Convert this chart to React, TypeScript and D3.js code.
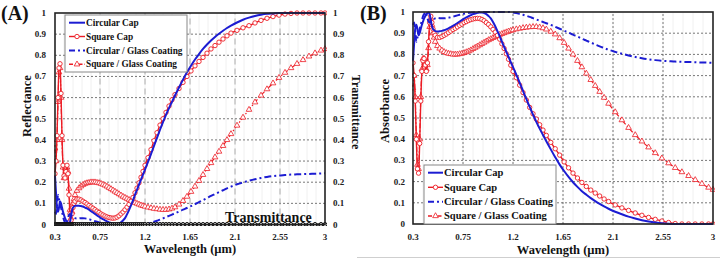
import React from "react";
import * as d3 from "d3";

// ---------- data ----------
const WAVELENGTH = [
  0.30, 0.31, 0.32, 0.33, 0.34, 0.35, 0.36, 0.37, 0.38, 0.39, 0.40, 0.41, 0.42, 0.43, 0.44, 0.45, 0.46, 0.47, 0.48, 0.49, 0.50,
  0.52, 0.54, 0.56, 0.58, 0.60, 0.62, 0.64, 0.66, 0.68, 0.70, 0.72, 0.74, 0.76, 0.78, 0.80, 0.82, 0.84, 0.86, 0.88, 0.90,
  0.92, 0.94, 0.96, 0.98, 1.00, 1.02, 1.04, 1.06, 1.08, 1.10, 1.12, 1.14, 1.16, 1.18, 1.20,
  1.23, 1.26, 1.29, 1.32, 1.35, 1.38, 1.41, 1.44, 1.47, 1.50,
  1.54, 1.58, 1.62, 1.66, 1.70, 1.74, 1.78, 1.82, 1.86, 1.90, 1.94, 1.98, 2.02,
  2.06, 2.12, 2.18, 2.24, 2.30, 2.36, 2.42, 2.48, 2.54, 2.60, 2.66, 2.72, 2.78, 2.84, 2.90, 2.96, 3.00,
];

// (A) Reflectance
const REFL_CIRCULAR = [
  0.23, 0.15, 0.08, 0.06, 0.08, 0.11, 0.10, 0.08, 0.06, 0.045, 0.03, 0.02, 0.01, 0.005, 0.003, 0.01, 0.04, 0.065, 0.08, 0.085, 0.088,
  0.089, 0.089, 0.087, 0.085, 0.080, 0.076, 0.070, 0.063, 0.057, 0.050, 0.043, 0.037, 0.030, 0.025, 0.020, 0.015, 0.010, 0.007,
  0.004, 0.002, 0.002, 0.005, 0.010, 0.019, 0.030, 0.048, 0.068, 0.090, 0.114, 0.140, 0.164, 0.188, 0.212, 0.236, 0.260,
  0.296, 0.333, 0.372, 0.41, 0.448, 0.484, 0.518, 0.55, 0.58, 0.61,
  0.648, 0.685, 0.72, 0.751, 0.78, 0.806, 0.83, 0.851, 0.87, 0.887, 0.902, 0.916, 0.929,
  0.94, 0.955, 0.968, 0.978, 0.986, 0.992, 0.996, 0.998, 1, 1, 1, 1, 1, 1, 1, 1, 1,
];
const REFL_SQUARE = [
  0.24, 0.30, 0.42, 0.60, 0.74, 0.76, 0.62, 0.42, 0.28, 0.23, 0.22, 0.25, 0.28, 0.24, 0.14, 0.05, 0.02, 0.05, 0.08, 0.10, 0.11,
  0.12, 0.12, 0.116, 0.11, 0.104, 0.097, 0.09, 0.083, 0.077, 0.07, 0.063, 0.057, 0.05, 0.045, 0.04, 0.036, 0.033, 0.031,
  0.03, 0.031, 0.035, 0.041, 0.05, 0.059, 0.07, 0.082, 0.095, 0.11, 0.128, 0.15, 0.172, 0.197, 0.223, 0.251, 0.28,
  0.316, 0.354, 0.396, 0.434, 0.47, 0.5, 0.53, 0.56, 0.59, 0.614,
  0.643, 0.672, 0.70, 0.726, 0.75, 0.771, 0.79, 0.81, 0.83, 0.846, 0.862, 0.877, 0.892,
  0.905, 0.918, 0.93, 0.94, 0.953, 0.965, 0.975, 0.983, 0.99, 0.995, 0.998, 1, 1, 1, 1, 1, 1,
];
const REFL_CIRCULAR_GLASS = [
  0.06, 0.05, 0.09, 0.14, 0.12, 0.10, 0.08, 0.06, 0.04, 0.02, 0.01, 0.0, 0.01, 0.03, 0.045, 0.05, 0.045, 0.04, 0.035, 0.032, 0.03,
  0.028, 0.029, 0.03, 0.03, 0.029, 0.027, 0.025, 0.022, 0.019, 0.016, 0.013, 0.01, 0.008, 0.006, 0.004, 0.003, 0.002, 0.001,
  0, 0, 0, 0, 0, 0, 0, 0, 0, 0, 0, 0, 0, 0, 0, 0.001, 0.002,
  0.005, 0.008, 0.013, 0.018, 0.023, 0.029, 0.035, 0.041, 0.047, 0.053,
  0.061, 0.07, 0.078, 0.087, 0.096, 0.106, 0.115, 0.125, 0.135, 0.144, 0.153, 0.162, 0.171,
  0.179, 0.19, 0.199, 0.207, 0.214, 0.22, 0.225, 0.229, 0.232, 0.234, 0.236, 0.237, 0.238, 0.239, 0.24, 0.241, 0.242,
];
const REFL_SQUARE_GLASS = [
  0.36, 0.30, 0.40, 0.58, 0.72, 0.74, 0.60, 0.40, 0.27, 0.22, 0.22, 0.24, 0.27, 0.25, 0.17, 0.07, 0.03, 0.06, 0.10, 0.12, 0.14,
  0.16, 0.172, 0.181, 0.188, 0.193, 0.196, 0.198, 0.2, 0.2, 0.2, 0.198, 0.196, 0.193, 0.189, 0.185, 0.18, 0.174, 0.168,
  0.162, 0.156, 0.15, 0.144, 0.138, 0.132, 0.127, 0.122, 0.117, 0.112, 0.107, 0.103, 0.099, 0.095, 0.091, 0.088, 0.085,
  0.081, 0.078, 0.075, 0.073, 0.071, 0.07, 0.07, 0.072, 0.076, 0.082,
  0.095, 0.112, 0.132, 0.155, 0.18, 0.207, 0.235, 0.263, 0.291, 0.318, 0.345, 0.372, 0.4,
  0.428, 0.468, 0.506, 0.543, 0.578, 0.61, 0.64, 0.668, 0.694, 0.718, 0.74, 0.76, 0.778, 0.795, 0.81, 0.823, 0.83,
];
const TRANSMITTANCE = [
  0, 0, 0, 0, 0, 0, 0, 0, 0, 0, 0, 0, 0, 0, 0, 0, 0, 0, 0, 0, 0,
  0, 0, 0, 0, 0, 0, 0, 0, 0, 0, 0, 0, 0, 0, 0, 0, 0, 0,
  0, 0, 0, 0, 0, 0, 0, 0, 0, 0, 0, 0, 0, 0, 0, 0, 0,
  0, 0, 0, 0, 0, 0, 0, 0, 0, 0,
  0, 0, 0, 0, 0, 0, 0, 0, 0, 0, 0, 0, 0,
  0, 0, 0, 0, 0, 0, 0, 0, 0, 0, 0, 0, 0, 0, 0, 0, 0,
];

// (B) Absorbance
const ABS_CIRCULAR = [
  0.77, 0.85, 0.92, 0.94, 0.92, 0.89, 0.90, 0.92, 0.94, 0.955, 0.97, 0.98, 0.99, 0.995, 0.998, 0.99, 0.96, 0.935, 0.92, 0.915, 0.91,
  0.908, 0.909, 0.911, 0.914, 0.918, 0.923, 0.929, 0.935, 0.941, 0.948, 0.955, 0.962, 0.969, 0.975, 0.98, 0.985, 0.99, 0.993,
  0.996, 0.998, 0.998, 0.995, 0.99, 0.981, 0.97, 0.953, 0.933, 0.91, 0.886, 0.86, 0.836, 0.812, 0.788, 0.764, 0.74,
  0.704, 0.667, 0.628, 0.59, 0.552, 0.516, 0.482, 0.45, 0.42, 0.39,
  0.352, 0.315, 0.28, 0.25, 0.222, 0.197, 0.175, 0.155, 0.138, 0.122, 0.108, 0.095, 0.083,
  0.072, 0.058, 0.046, 0.035, 0.026, 0.018, 0.012, 0.007, 0.003, 0.001, 0, 0, 0, 0, 0, 0, 0,
];
const ABS_SQUARE = [
  0.76, 0.70, 0.58, 0.40, 0.26, 0.24, 0.38, 0.58, 0.72, 0.77, 0.78, 0.75, 0.72, 0.76, 0.86, 0.95, 0.98, 0.95, 0.92, 0.90, 0.89,
  0.88, 0.88, 0.884, 0.89, 0.896, 0.903, 0.91, 0.917, 0.923, 0.93, 0.937, 0.943, 0.95, 0.955, 0.96, 0.964, 0.967, 0.969,
  0.97, 0.969, 0.965, 0.959, 0.95, 0.941, 0.93, 0.918, 0.905, 0.89, 0.872, 0.85, 0.828, 0.803, 0.777, 0.749, 0.72,
  0.69, 0.655, 0.62, 0.585, 0.55, 0.52, 0.495, 0.468, 0.443, 0.418,
  0.385, 0.355, 0.325, 0.293, 0.265, 0.24, 0.217, 0.196, 0.177, 0.16, 0.146, 0.132, 0.118,
  0.106, 0.09, 0.076, 0.064, 0.052, 0.041, 0.031, 0.022, 0.014, 0.007, 0.002, 0, 0, 0, 0, 0, 0,
];
const ABS_CIRCULAR_GLASS = [
  0.94, 0.95, 0.91, 0.86, 0.88, 0.90, 0.92, 0.94, 0.96, 0.98, 0.99, 1.0, 0.99, 0.97, 0.955, 0.95, 0.955, 0.96, 0.965, 0.968, 0.97,
  0.972, 0.971, 0.97, 0.97, 0.971, 0.973, 0.975, 0.978, 0.981, 0.984, 0.987, 0.99, 0.992, 0.994, 0.996, 0.997, 0.998, 0.999,
  1, 1, 1, 1, 1, 1, 1, 1, 1, 1, 1, 1, 1, 1, 1, 0.999, 0.998,
  0.995, 0.991, 0.987, 0.982, 0.977, 0.971, 0.965, 0.959, 0.953, 0.947,
  0.939, 0.93, 0.921, 0.912, 0.903, 0.893, 0.884, 0.874, 0.865, 0.856, 0.847, 0.838, 0.83,
  0.822, 0.812, 0.803, 0.795, 0.788, 0.782, 0.777, 0.773, 0.77, 0.768, 0.766, 0.765, 0.764, 0.763, 0.762, 0.761, 0.76,
];
const ABS_SQUARE_GLASS = [
  0.64, 0.70, 0.60, 0.42, 0.28, 0.26, 0.40, 0.60, 0.73, 0.78, 0.78, 0.76, 0.73, 0.75, 0.83, 0.93, 0.97, 0.94, 0.90, 0.88, 0.86,
  0.84, 0.828, 0.819, 0.812, 0.807, 0.804, 0.802, 0.8, 0.8, 0.8, 0.802, 0.804, 0.807, 0.811, 0.815, 0.82, 0.826, 0.832,
  0.838, 0.844, 0.85, 0.856, 0.862, 0.868, 0.873, 0.878, 0.883, 0.888, 0.893, 0.897, 0.901, 0.905, 0.909, 0.912, 0.915,
  0.919, 0.922, 0.925, 0.927, 0.929, 0.93, 0.93, 0.928, 0.924, 0.918,
  0.908, 0.895, 0.877, 0.855, 0.828, 0.8, 0.77, 0.74, 0.71, 0.68, 0.652, 0.624, 0.596,
  0.568, 0.528, 0.49, 0.454, 0.42, 0.39, 0.362, 0.335, 0.31, 0.287, 0.265, 0.245, 0.227, 0.208, 0.19, 0.172, 0.162,
];

const SERIES_NAMES = ["Circular Cap", "Square Cap", "Circular / Glass Coating", "Square / Glass Coating"];
const X_TICKS = [0.3, 0.75, 1.2, 1.65, 2.1, 2.55, 3];
const X_TICK_LABELS = ["0.3", "0.75", "1.2", "1.65", "2.1", "2.55", "3"];
const Y_TICKS = [0, 0.1, 0.2, 0.3, 0.4, 0.5, 0.6, 0.7, 0.8, 0.9, 1];
const Y_TICK_LABELS = ["0", "0.1", "0.2", "0.3", "0.4", "0.5", "0.6", "0.7", "0.8", "0.9", "1"];

// ---------- styles ----------
const FONT = "'Liberation Serif', 'Times New Roman', serif";
const BLUE = "#1c1cd2";
const RED = "#ec1c24";

type Scale = d3.ScaleLinear<number, number>;

function linePath(values: number[], x: Scale, y: Scale) {
  return (
    d3
      .line<number>()
      .x((_, i) => x(WAVELENGTH[i]))
      .y((d) => y(d))
      .curve(d3.curveMonotoneX)(values) || ""
  );
}

const triPath = d3.symbol().type(d3.symbolTriangle).size(14)() || "";

function Series({ values, x, y, kind }: { values: number[]; x: Scale; y: Scale; kind: number }) {
  const d = linePath(values, x, y);
  if (kind === 0) return <path d={d} fill="none" stroke={BLUE} strokeWidth={2} />;
  if (kind === 2)
    return <path d={d} fill="none" stroke={BLUE} strokeWidth={2} strokeDasharray="7 3 2 3" />;
  if (kind === 1)
    return (
      <g>
        <path d={d} fill="none" stroke={RED} strokeWidth={1.4} />
        {values.map((v, i) => (
          <circle key={i} cx={x(WAVELENGTH[i])} cy={y(v)} r={2.2} fill="white" stroke={RED} strokeWidth={0.9} />
        ))}
      </g>
    );
  if (kind === 3)
    return (
      <g>
        <path d={d} fill="none" stroke={RED} strokeWidth={1.2} strokeDasharray="5 2 1.5 2" />
        {values.map((v, i) => (
          <path
            key={i}
            d={triPath}
            transform={`translate(${x(WAVELENGTH[i])},${y(v)})`}
            fill="white"
            stroke={RED}
            strokeWidth={0.8}
          />
        ))}
      </g>
    );
  // transmittance (black with circles)
  return (
    <g>
      <path d={d} fill="none" stroke="#000" strokeWidth={2.2} />
      {values.map((v, i) => (
        <circle key={i} cx={x(WAVELENGTH[i])} cy={y(v)} r={2} fill="white" stroke="#000" strokeWidth={1} />
      ))}
    </g>
  );
}

function Grid({ x, y, vDash, vColor }: { x: Scale; y: Scale; vDash: string; vColor: string }) {
  const [x0, x1] = x.range();
  const [y0, y1] = y.range();
  const minor = d3.range(0.39, 3, 0.09);
  return (
    <g>
      {minor.map((m, i) => (
        <line key={"m" + i} x1={x(m)} x2={x(m)} y1={y0} y2={y1} stroke="#ececec" strokeWidth={0.8} />
      ))}
      {Y_TICKS.slice(1, -1).map((t, i) => (
        <line key={"h" + i} x1={x0} x2={x1} y1={y(t)} y2={y(t)} stroke="#555" strokeWidth={0.8} strokeDasharray="2 2" />
      ))}
      {X_TICKS.slice(1, -1).map((t, i) => (
        <line key={"v" + i} x1={x(t)} x2={x(t)} y1={y0} y2={y1} stroke={vColor} strokeWidth={0.8} strokeDasharray={vDash} />
      ))}
    </g>
  );
}

function Axes({ x, y, leftLabelX, rightLabelX }: { x: Scale; y: Scale; leftLabelX: number; rightLabelX?: number }) {
  const [x0, x1] = x.range();
  const [y0, y1] = y.range();
  return (
    <g fontFamily={FONT} fontWeight="bold" fontSize={9} fill="#222">
      <rect x={x0} y={y1} width={x1 - x0} height={y0 - y1} fill="none" stroke="#222" strokeWidth={1.6} />
      {Y_TICKS.map((t, i) => (
        <text key={"yl" + i} x={leftLabelX} y={y(t) + 3} textAnchor="end">
          {Y_TICK_LABELS[i]}
        </text>
      ))}
      {rightLabelX !== undefined &&
        Y_TICKS.map((t, i) => (
          <text key={"yr" + i} x={rightLabelX} y={y(t) + 3} textAnchor="start">
            {Y_TICK_LABELS[i]}
          </text>
        ))}
      {X_TICKS.map((t, i) => (
        <text key={"xl" + i} x={x(t)} y={239.5} textAnchor="middle">
          {X_TICK_LABELS[i]}
        </text>
      ))}
    </g>
  );
}

function Legend({ x, y, w, h, rows, fs, sx0, sx1 }: { x: number; y: number; w: number; h: number; rows: number[]; fs: number; sx0: number; sx1: number }) {
  const mid = (sx0 + sx1) / 2;
  return (
    <g fontFamily={FONT} fontWeight="bold" fontSize={fs} fill="#111">
      <rect x={x} y={y} width={w} height={h} fill="white" stroke="#888" strokeWidth={1} />
      {SERIES_NAMES.map((name, i) => {
        const ry = rows[i];
        const isBlue = i === 0 || i === 2;
        return (
          <g key={i}>
            <line
              x1={sx0}
              x2={sx1}
              y1={ry}
              y2={ry}
              stroke={isBlue ? BLUE : RED}
              strokeWidth={isBlue ? 2 : 1.4}
              strokeDasharray={i === 2 ? "6 3 2 3" : i === 3 ? "4 2 1.5 2" : undefined}
            />
            {i === 1 && <circle cx={mid} cy={ry} r={2.2} fill="white" stroke={RED} strokeWidth={0.9} />}
            {i === 3 && (
              <path d={triPath} transform={`translate(${mid},${ry})`} fill="white" stroke={RED} strokeWidth={0.8} />
            )}
            <text x={sx1 + 1} y={ry + fs * 0.33}>
              {name}
            </text>
          </g>
        );
      })}
    </g>
  );
}

export default function App() {
  const xL = d3.scaleLinear().domain([0.3, 3]).range([55, 325]);
  const yL = d3.scaleLinear().domain([0, 1]).range([224.5, 13]);
  const xR = d3.scaleLinear().domain([0.3, 3]).range([413, 713]);
  const yR = d3.scaleLinear().domain([0, 1]).range([224, 12]);

  const left = [REFL_SQUARE_GLASS, REFL_SQUARE, REFL_CIRCULAR_GLASS, REFL_CIRCULAR];
  const right = [ABS_SQUARE_GLASS, ABS_SQUARE, ABS_CIRCULAR_GLASS, ABS_CIRCULAR];
  const kinds = [3, 1, 2, 0];

  return (
    <div style={{ position: "absolute", left: 0, top: 0 }}>
      <svg width={722} height={265} style={{ display: "block", background: "white" }}>
        <rect x={0} y={0} width={722} height={265} fill="white" />
        <defs>
          <clipPath id="clipA">
            <rect x={54} y={10} width={273} height={216} />
          </clipPath>
          <clipPath id="clipB">
            <rect x={412} y={9} width={303} height={216} />
          </clipPath>
        </defs>
        {/* Panel A */}
        <Grid x={xL} y={yL} vDash="6 4" vColor="#999" />
        <g clipPath="url(#clipA)">
          {left.map((v, i) => (
            <Series key={i} values={v} x={xL} y={yL} kind={kinds[i]} />
          ))}
          <Series values={TRANSMITTANCE} x={xL} y={yL} kind={4} />
        </g>
        <Axes x={xL} y={yL} leftLabelX={46} rightLabelX={333} />
        <text x={225} y={221.5} fontFamily={FONT} fontWeight="bold" fontSize={14} fill="#111">
          Transmittance
        </text>
        <Legend x={65} y={15} w={122} h={57} rows={[22.7, 36.5, 50.5, 64.3]} fs={9.3} sx0={69} sx1={85} />
        <text x={1} y={19.5} fontFamily={FONT} fontWeight="bold" fontSize={20} fill="#111">
          (A)
        </text>
        <text
          transform="translate(31,106) rotate(-90)"
          textAnchor="middle"
          fontFamily={FONT}
          fontWeight="bold"
          fontSize={12.5}
          fill="#111"
        >
          Reflectance
        </text>
        <text
          transform="translate(352,112) rotate(90)"
          textAnchor="middle"
          fontFamily={FONT}
          fontWeight="bold"
          fontSize={12}
          fill="#111"
        >
          Transmittance
        </text>
        <text x={190} y={253} textAnchor="middle" fontFamily={FONT} fontWeight="bold" fontSize={12.5} fill="#111">
          Wavelength (µm)
        </text>

        {/* Panel B */}
        <line x1={357} x2={720} y1={257.5} y2={257.5} stroke="#cfcfcf" strokeWidth={1} />
        <Grid x={xR} y={yR} vDash="2 2" vColor="#555" />
        <g clipPath="url(#clipB)">
          {right.map((v, i) => (
            <Series key={i} values={v} x={xR} y={yR} kind={kinds[i]} />
          ))}
        </g>
        <Axes x={xR} y={yR} leftLabelX={405} />
        <Legend x={424} y={165} w={132} h={59} rows={[172.7, 187.3, 201.7, 216]} fs={10.5} sx0={428} sx1={443} />
        <text x={360} y={19.5} fontFamily={FONT} fontWeight="bold" fontSize={20} fill="#111">
          (B)
        </text>
        <text
          transform="translate(389,111) rotate(-90)"
          textAnchor="middle"
          fontFamily={FONT}
          fontWeight="bold"
          fontSize={12.5}
          fill="#111"
        >
          Absorbance
        </text>
        <text x={563} y={254} textAnchor="middle" fontFamily={FONT} fontWeight="bold" fontSize={12.5} fill="#111">
          Wavelength (µm)
        </text>
      </svg>
    </div>
  );
}
